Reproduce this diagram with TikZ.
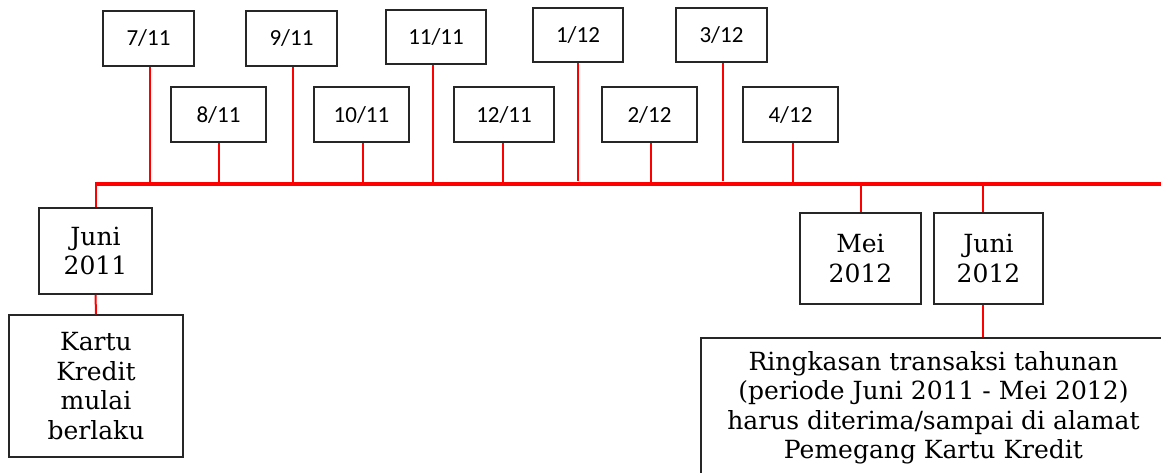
\documentclass[tikz,border=0pt]{standalone}
\usepackage{fontspec}
\setmainfont{DejaVu Serif}
\newfontfamily\datefont{Carlito}
\begin{document}
\begin{tikzpicture}[x=1pt,y=-1pt,
  datebox/.style={draw=black!85, line width=1.5pt, inner sep=0pt,
    minimum height=55pt, font=\datefont\fontsize{23}{26}\selectfont},
  serifbox/.style={draw=black!85, line width=1.5pt, inner sep=0pt, align=center,
    font=\fontsize{25}{29.5}\selectfont},
  stem/.style={red, line width=2pt},
  axis/.style={red, line width=4.5pt}]
\useasboundingbox (0,0) rectangle (1161,472);
\clip (0,0) rectangle (1161,472);

% time axis
\coordinate (lineL) at (96,184);
\coordinate (lineR) at (1161,184);

% monthly dates, upper row
\node[datebox, minimum width=91pt]  (d711) at (148.5,38.5) {7/11};
\node[datebox, minimum width=91pt]  (d911) at (291.5,38.5) {9/11};
\node[datebox, minimum width=100pt, minimum height=54pt] (d1111) at (436,37) {11/11};
\node[datebox, minimum width=90pt, minimum height=54pt]  (d112) at (578,35) {1/12};
\node[datebox, minimum width=91pt, minimum height=54pt]  (d312) at (721.5,35) {3/12};

% monthly dates, lower row
\node[datebox, minimum width=95pt]  (d811)  at (218.5,114.5) {8/11};
\node[datebox, minimum width=95pt]  (d1011) at (361.5,114.5) {10/11};
\node[datebox, minimum width=100pt] (d1211) at (504,114.5) {12/11};
\node[datebox, minimum width=95pt]  (d212)  at (649.5,114.5) {2/12};
\node[datebox, minimum width=95pt]  (d412)  at (790.5,114.5) {4/12};

% stems from the dates down to the axis
\draw[stem] ([xshift=1.5pt]d711.south) -- ([xshift=1.5pt]d711.south |- lineL);
\draw[stem] (d811.south) -- (d811.south |- lineL);
\draw[stem] ([xshift=1.5pt]d911.south) -- ([xshift=1.5pt]d911.south |- lineL);
\draw[stem] ([xshift=1.5pt]d1011.south) -- ([xshift=1.5pt]d1011.south |- lineL);
\draw[stem] ([xshift=-3pt]d1111.south) -- ([xshift=-3pt]d1111.south |- lineL);
\draw[stem] ([xshift=-1pt]d1211.south) -- ([xshift=-1pt]d1211.south |- lineL);
\draw[stem] (d112.south) -- ++(0,118);
\draw[stem] ([xshift=1.5pt]d212.south) -- ([xshift=1.5pt]d212.south |- lineL);
\draw[stem] ([xshift=1.5pt]d312.south) -- ++(0,118);
\draw[stem] ([xshift=2.5pt]d412.south) -- ([xshift=2.5pt]d412.south |- lineL);

% milestones below the axis
\node[serifbox, minimum width=113pt, minimum height=86pt] (jun11) at (95.5,251) {Juni\\2011};
\node[serifbox, minimum width=174pt, minimum height=142pt] (kartu) at (96,386)
  {Kartu\\Kredit\\mulai\\berlaku};
\node[serifbox, minimum width=121pt, minimum height=91pt] (mei12) at (860.5,258.5) {Mei\\2012};
\node[serifbox, minimum width=109pt, minimum height=91pt] (jun12) at (988.5,258.5) {Juni\\2012};
\node[serifbox, minimum width=465pt, minimum height=140pt] (ring) at (933.5,408)
  {Ringkasan transaksi tahunan\\(periode Juni 2011 - Mei 2012)\\harus diterima/sampai di alamat\\Pemegang Kartu Kredit};

\draw[stem] (jun11.north) -- (jun11.north |- lineL);
\draw[stem] (jun11.south) -- (kartu.north);
\draw[stem] (mei12.north) -- (mei12.north |- lineL);
\draw[stem] ([xshift=-5.5pt]jun12.north) -- ([xshift=-5.5pt]jun12.north |- lineL);
\draw[stem] ([xshift=-5.5pt]jun12.south) -- ([xshift=-5.5pt]jun12.south |- ring.north);

\draw[axis] ([xshift=-1pt]lineL) -- (lineR);
\end{tikzpicture}
\end{document}
